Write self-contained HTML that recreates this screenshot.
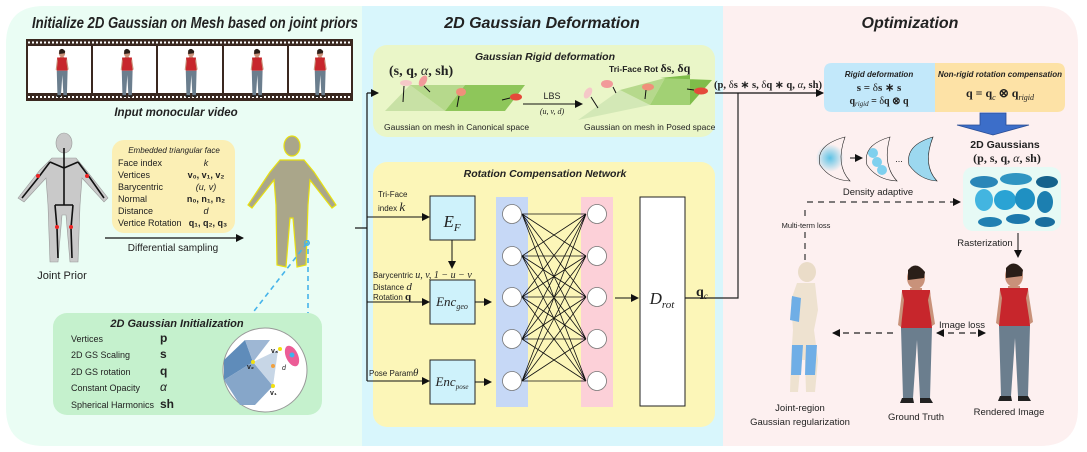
<!DOCTYPE html>
<html><head><meta charset="utf-8"><style>
html,body{margin:0;padding:0;background:#fff;}
svg{display:block;}
text{font-family:"Liberation Sans",sans-serif;fill:#222;}
.m{font-family:"Liberation Serif",serif;}
.t{font-style:italic;font-weight:bold;}
</style></head><body>
<svg width="1087" height="452" viewBox="0 0 1087 452" xmlns="http://www.w3.org/2000/svg">
<defs>
<marker id="ar" markerWidth="8" markerHeight="8" refX="7" refY="4" orient="auto" markerUnits="userSpaceOnUse"><path d="M0,0 L8,4 L0,8 z" fill="#111"/></marker>
<marker id="al" markerWidth="8" markerHeight="8" refX="1" refY="4" orient="auto" markerUnits="userSpaceOnUse"><path d="M8,0 L0,4 L8,8 z" fill="#111"/></marker>
<radialGradient id="bl"><stop offset="0" stop-color="#5cc3e6"/><stop offset="1" stop-color="#5cc3e6" stop-opacity="0"/></radialGradient>
<g id="person">
<ellipse cx="0" cy="-62" rx="9" ry="11" fill="#c9927a"/>
<path d="M-8,-70 Q0,-80 9,-68 L8,-62 L-8,-60z" fill="#2a1e18"/>
<path d="M-6,-52 L6,-52 L6,-48 L-6,-48z" fill="#c9927a"/>
<path d="M-14,-50 L14,-50 L16,-12 L-15,-12 z" fill="#c7262c"/>
<path d="M-14,-48 L-18,-15 L-15,-13 L-12,-40z" fill="#c9927a"/>
<path d="M14,-48 L19,-16 L16,-14 L12,-40z" fill="#c9927a"/>
<path d="M-15,-12 L16,-12 L14,58 L4,58 L1,0 L-3,58 L-13,58 z" fill="#6b7e8e"/>
<path d="M-14,58 L-3,58 L-2,63 L-16,63z M4,58 L14,58 L17,63 L4,63z" fill="#222"/>
</g>
</defs>

<!-- panels -->
<path d="M44,6 L362,6 L362,446 L44,446 Q6,446 6,408 L6,44 Q6,6 44,6z" fill="#eafdf4"/>
<rect x="362" y="6" width="361" height="440" fill="#d8f6fc"/>
<path d="M723,6 L1040,6 Q1078,6 1078,44 L1078,408 Q1078,446 1040,446 L723,446z" fill="#fdf0f0"/>

<!-- LEFT -->
<text x="32" y="28" font-size="16" class="t" textLength="326" lengthAdjust="spacingAndGlyphs">Initialize 2D Gaussian on Mesh based on joint priors</text>
<rect x="26" y="39" width="327" height="62" fill="#3a2820"/>
<g fill="#fff">
<rect x="28" y="46" width="63" height="47"/><rect x="93" y="46" width="63" height="47"/><rect x="158" y="46" width="64" height="47"/><rect x="224" y="46" width="63" height="47"/><rect x="289" y="46" width="62" height="47"/>
</g>
<g stroke="#fff" stroke-width="2" stroke-dasharray="2 2"><line x1="28" y1="42.5" x2="352" y2="42.5"/><line x1="28" y1="97" x2="352" y2="97"/></g>
<use href="#person" transform="translate(62,75) scale(0.35)"/>
<use href="#person" transform="translate(127,75) scale(0.35)"/>
<use href="#person" transform="translate(191,75) scale(0.35)"/>
<use href="#person" transform="translate(257,75) scale(0.35)"/>
<use href="#person" transform="translate(320,75) scale(0.35)"/>
<text x="176" y="116" font-size="11.5" class="t" text-anchor="middle">Input monocular video</text>

<!-- joint prior -->
<g fill="#c9c9c9" stroke="#999" stroke-width="0.6">
<ellipse cx="64" cy="143" rx="8" ry="10"/>
<path d="M52,158 L76,158 L86,170 L108,198 L104,202 L82,178 L80,205 L78,262 L70,262 L66,215 L62,215 L58,262 L50,262 L48,205 L46,178 L24,202 L18,198 L40,170z"/>
</g>
<g stroke="#111" stroke-width="1.6" fill="none">
<path d="M64,148 L64,205 M50,162 L64,168 L78,162 M50,162 L38,178 L22,198 M78,162 L90,178 L104,198 M55,205 L73,205 M55,205 L57,228 L58,258 M73,205 L71,228 L72,258"/>
</g>
<g fill="#e22"><circle cx="38" cy="176" r="2"/><circle cx="87" cy="176" r="2"/><circle cx="57" cy="227" r="2"/><circle cx="71" cy="227" r="2"/></g>
<text x="62" y="279" font-size="11" text-anchor="middle">Joint Prior</text>

<!-- embedded box -->
<rect x="112" y="140" width="123" height="93" rx="12" fill="#fbefb5"/>
<text x="174" y="153" font-size="8" font-style="italic" text-anchor="middle">Embedded triangular face</text>
<g font-size="9">
<text x="118" y="166">Face index</text><text x="118" y="178">Vertices</text><text x="118" y="190">Barycentric</text><text x="118" y="202">Normal</text><text x="118" y="214">Distance</text><text x="118" y="226">Vertice Rotation</text>
</g>
<g font-size="9" class="m" text-anchor="middle">
<text x="206" y="166" font-style="italic">k</text><text x="206" y="178" font-weight="bold">v₀, v₁, v₂</text><text x="206" y="190" font-style="italic">(u, v)</text><text x="206" y="202" font-weight="bold">n₀, n₁, n₂</text><text x="206" y="214" font-style="italic">d</text><text x="208" y="226" font-weight="bold">q₁, q₂, q₃</text>
</g>
<line x1="105" y1="238" x2="243" y2="238" stroke="#111" stroke-width="1.2" marker-end="url(#ar)"/>
<text x="173" y="251" font-size="10" text-anchor="middle">Differential sampling</text>

<!-- yellow mesh -->
<g fill="#aaa68a" stroke="#e8e010" stroke-width="1.2">
<ellipse cx="292" cy="146" rx="8" ry="10"/>
<path d="M280,160 L304,160 L314,172 L336,205 L332,208 L310,180 L308,205 L306,265 L297,267 L293,218 L290,218 L286,267 L277,265 L276,205 L274,180 L252,208 L248,205 L270,172z"/>
</g>
<g stroke="#46b4ea" stroke-width="1.6" stroke-dasharray="5 4" fill="none"><line x1="307" y1="243" x2="237" y2="333"/><line x1="308" y1="240" x2="308" y2="360"/></g>
<circle cx="307" cy="243" r="2.5" fill="none" stroke="#46b4ea"/>

<!-- 2D GS init -->
<rect x="53" y="313" width="269" height="102" rx="14" fill="#c5f1cd"/>
<text x="177" y="327" font-size="11" class="t" text-anchor="middle">2D Gaussian Initialization</text>
<g font-size="9">
<text x="71" y="342">Vertices</text><text x="71" y="358">2D GS Scaling</text><text x="71" y="375">2D GS rotation</text><text x="71" y="391">Constant Opacity</text><text x="71" y="408">Spherical Harmonics</text>
</g>
<g font-size="12" class="m" font-weight="bold">
<text x="160" y="342">p</text><text x="160" y="358">s</text><text x="160" y="375">q</text><text x="160" y="391" font-style="italic" font-weight="normal">α</text><text x="160" y="408">sh</text>
</g>
<circle cx="265" cy="370" r="42" fill="#fff" stroke="#999"/>
<path d="M224,360 L245,340 L253,362 L224,380z" fill="#5f8cba"/>
<path d="M245,340 L253,362 L270,340 Z" fill="#9eb7d4"/>
<path d="M253,362 L273,386 L255,405 L240,405 L224,380z" fill="#86a6c9"/>
<path d="M253,362 L278,350 L273,386z" fill="#c7d6e6"/>
<ellipse cx="292" cy="356" rx="6" ry="11" transform="rotate(-25 292 356)" fill="#ec5c96"/>
<circle cx="292" cy="355" r="2.5" fill="#3cb4ec"/>
<g fill="#f2e010"><circle cx="253" cy="362" r="2"/><circle cx="280" cy="349" r="2"/><circle cx="273" cy="386" r="2"/></g>
<circle cx="273" cy="366" r="2" fill="#f0a040"/>
<g font-size="7" class="m" font-weight="bold"><text x="247" y="369">v₂</text><text x="271" y="353">v₃</text><text x="270" y="395">v₁</text><text x="282" y="370" font-style="italic" font-weight="normal">d</text></g>

<!-- MIDDLE -->
<text x="542" y="28" font-size="16" class="t" text-anchor="middle">2D Gaussian Deformation</text>
<rect x="373" y="45" width="342" height="92" rx="14" fill="#eaf6c8"/>
<text x="545" y="60" font-size="10.5" class="t" text-anchor="middle">Gaussian Rigid deformation</text>
<text x="389" y="75" font-size="14" class="m" font-weight="bold">(s, q, <tspan font-style="italic" font-weight="normal">α</tspan>, sh)</text>
<path d="M385,111 L410,85 L445,111z" fill="#c8e1a5"/>
<path d="M410,85 L445,111 L465,85z" fill="#b6d98c"/>
<path d="M445,111 L465,85 L525,85 L505,111z" fill="#8ec65a"/>
<ellipse cx="406" cy="83" rx="6" ry="3" fill="#f5c8c8"/><ellipse cx="423" cy="81" rx="3.5" ry="6" transform="rotate(30 423 81)" fill="#f29a9a"/><ellipse cx="461" cy="92" rx="5" ry="4" fill="#f0907a"/><ellipse cx="516" cy="97" rx="6" ry="3.5" fill="#e44a3a"/>
<g stroke="#111" stroke-width="1"><line x1="404" y1="86" x2="403" y2="102"/><line x1="424" y1="86" x2="430" y2="92"/><line x1="459" y1="96" x2="457" y2="107"/><line x1="510" y1="98" x2="502" y2="100"/></g>
<line x1="523" y1="104" x2="582" y2="104" stroke="#111" stroke-width="1" marker-end="url(#ar)"/>
<text x="552" y="99" font-size="9" text-anchor="middle">LBS</text>
<text x="552" y="114" font-size="8" class="m" font-style="italic" text-anchor="middle">(u, v, d)</text>
<text x="384" y="130" font-size="8.5">Gaussian on mesh in Canonical space</text>
<text x="609" y="72" font-size="8.5" font-weight="bold">Tri-Face Rot <tspan class="m" font-size="12">δs, δq</tspan></text>
<path d="M578,120 L620,90 L650,105z" fill="#d3e8b6"/>
<path d="M620,90 L650,105 L665,78 Z" fill="#b6d98c"/>
<path d="M650,105 L665,78 L690,75 L690,105z" fill="#a2d174"/>
<path d="M660,78 L690,75 L690,105 L712,80z" fill="#7fbd4a"/>
<ellipse cx="588" cy="93" rx="3.5" ry="6" transform="rotate(30 588 93)" fill="#f5c8c8"/>
<ellipse cx="607" cy="84" rx="6" ry="4" fill="#f29a9a"/>
<ellipse cx="648" cy="87" rx="6" ry="3.5" fill="#f0907a"/>
<ellipse cx="701" cy="91" rx="7" ry="3.5" fill="#e44a3a"/>
<g stroke="#111" stroke-width="1"><line x1="591" y1="97" x2="598" y2="108"/><line x1="613" y1="87" x2="616" y2="93"/><line x1="646" y1="90" x2="645" y2="99"/><line x1="694" y1="90" x2="687" y2="89"/></g>
<text x="584" y="130" font-size="8.5">Gaussian on mesh in Posed space</text>

<rect x="373" y="162" width="342" height="265" rx="14" fill="#fcf6b8"/>
<text x="545" y="177" font-size="10.5" class="t" text-anchor="middle">Rotation Compensation Network</text>

<!-- bracket -->
<g stroke="#111" stroke-width="1.2" fill="none">
<line x1="355" y1="228" x2="367" y2="228"/>
<line x1="367" y1="93" x2="367" y2="381"/>
</g>
<line x1="367" y1="93" x2="378" y2="93" stroke="#111" stroke-width="1.2" marker-end="url(#ar)"/>
<line x1="367" y1="217" x2="429" y2="217" stroke="#111" stroke-width="1" marker-end="url(#ar)"/>
<line x1="367" y1="302" x2="429" y2="302" stroke="#111" stroke-width="1" marker-end="url(#ar)"/>
<line x1="367" y1="381" x2="429" y2="381" stroke="#111" stroke-width="1" marker-end="url(#ar)"/>
<text x="378" y="197" font-size="8">Tri-Face</text>
<text x="378" y="211" font-size="8">index <tspan class="m" font-style="italic" font-size="13">k</tspan></text>
<text x="373" y="278" font-size="8">Barycentric <tspan class="m" font-style="italic" font-size="10">u, v, 1 − u − v</tspan></text>
<text x="373" y="290" font-size="8">Distance <tspan class="m" font-style="italic" font-size="11">d</tspan></text>
<text x="373" y="300" font-size="8">Rotation <tspan class="m" font-weight="bold" font-size="11">q</tspan></text>
<text x="369" y="376" font-size="8">Pose Param<tspan class="m" font-style="italic" font-size="11">θ</tspan></text>

<g fill="#cef2fb" stroke="#222" stroke-width="1">
<rect x="430" y="196" width="45" height="44"/><rect x="430" y="280" width="45" height="44"/><rect x="430" y="360" width="45" height="44"/>
</g>
<text x="452" y="227" font-size="17" class="m" font-style="italic" text-anchor="middle">E<tspan font-size="11" dy="4">F</tspan></text>
<text x="452" y="306" font-size="13" class="m" font-style="italic" text-anchor="middle">Enc<tspan font-size="8" dy="3">geo</tspan></text>
<text x="452" y="386" font-size="13" class="m" font-style="italic" text-anchor="middle">Enc<tspan font-size="7" dy="3">pose</tspan></text>
<line x1="452" y1="240" x2="452" y2="268" stroke="#111" marker-end="url(#ar)"/>
<line x1="475" y1="302" x2="491" y2="302" stroke="#111" marker-end="url(#ar)"/>
<line x1="475" y1="382" x2="491" y2="382" stroke="#111" marker-end="url(#ar)"/>

<rect x="496" y="197" width="32" height="210" fill="#c6d8f6"/>
<rect x="581" y="197" width="32" height="210" fill="#fcd0d8"/>
<g stroke="#111" stroke-width="0.8">
<path d="M522,214 L586,214 M522,214 L586,256 M522,214 L586,297 M522,214 L586,339 M522,214 L586,381
M522,256 L586,214 M522,256 L586,256 M522,256 L586,297 M522,256 L586,339 M522,256 L586,381
M522,297 L586,214 M522,297 L586,256 M522,297 L586,297 M522,297 L586,339 M522,297 L586,381
M522,339 L586,214 M522,339 L586,256 M522,339 L586,297 M522,339 L586,339 M522,339 L586,381
M522,381 L586,214 M522,381 L586,256 M522,381 L586,297 M522,381 L586,339 M522,381 L586,381"/>
</g>
<g fill="#fff" stroke="#777" stroke-width="0.8">
<circle cx="512" cy="214" r="9.5"/><circle cx="512" cy="256" r="9.5"/><circle cx="512" cy="297" r="9.5"/><circle cx="512" cy="339" r="9.5"/><circle cx="512" cy="381" r="9.5"/>
<circle cx="597" cy="214" r="9.5"/><circle cx="597" cy="256" r="9.5"/><circle cx="597" cy="297" r="9.5"/><circle cx="597" cy="339" r="9.5"/><circle cx="597" cy="381" r="9.5"/>
</g>
<line x1="615" y1="298" x2="638" y2="298" stroke="#111" marker-end="url(#ar)"/>
<rect x="640" y="197" width="45" height="209" fill="#fff" stroke="#222"/>
<text x="662" y="304" font-size="17" class="m" font-style="italic" text-anchor="middle">D<tspan font-size="11" dy="4">rot</tspan></text>
<text x="696" y="296" font-size="14" class="m" font-weight="bold">q<tspan font-size="9" font-style="italic" font-weight="normal" dy="3">c</tspan></text>
<polyline points="685,298 738,298 738,93" fill="none" stroke="#222" stroke-width="1.2"/>

<!-- RIGHT -->
<text x="910" y="28" font-size="16" class="t" text-anchor="middle">Optimization</text>
<line x1="715" y1="93" x2="823" y2="93" stroke="#111" stroke-width="1.2" marker-end="url(#ar)"/>
<text x="714" y="88" font-size="10" class="m" font-weight="bold" textLength="108" lengthAdjust="spacingAndGlyphs">(p, <tspan font-weight="normal">δ</tspan>s ∗ s, <tspan font-weight="normal">δ</tspan>q ∗ q, <tspan font-style="italic" font-weight="normal">α</tspan>, sh)</text>
<path d="M832,63 L935,63 L935,112 L832,112 Q824,112 824,104 L824,71 Q824,63 832,63z" fill="#c2e8fa"/>
<path d="M935,63 L1057,63 Q1065,63 1065,71 L1065,104 Q1065,112 1057,112 L935,112z" fill="#fde2a6"/>
<text x="879" y="77" font-size="8" font-style="italic" font-weight="bold" text-anchor="middle">Rigid deformation</text>
<text x="879" y="91" font-size="11" class="m" font-weight="bold" text-anchor="middle">s = <tspan font-weight="normal">δ</tspan>s ∗ s</text>
<text x="879" y="104" font-size="10" class="m" font-weight="bold" text-anchor="middle">q<tspan font-size="7" font-style="italic" font-weight="normal" dy="2">rigid</tspan><tspan dy="-2"> = </tspan><tspan font-weight="normal">δ</tspan>q ⊗ q</text>
<text x="1000" y="77" font-size="8" font-style="italic" font-weight="bold" text-anchor="middle">Non-rigid rotation compensation</text>
<text x="1000" y="97" font-size="12" class="m" font-weight="bold" text-anchor="middle">q = q<tspan font-size="8" font-style="italic" font-weight="normal" dy="3">c</tspan><tspan dy="-3"> ⊗ q</tspan><tspan font-size="8" font-style="italic" font-weight="normal" dy="3">rigid</tspan></text>
<path d="M980,113 L1006,113 L1006,125 L1029,125 L993,135 L957,125 L980,125z" fill="#3c6ec9" stroke="#2a4d94" stroke-width="0.8"/>
<text x="1005" y="148" font-size="10.5" font-weight="bold" text-anchor="middle">2D Gaussians</text>
<text x="1007" y="162" font-size="12" class="m" font-weight="bold" text-anchor="middle">(p,  s,  q,  <tspan font-style="italic" font-weight="normal">α</tspan>,  sh)</text>
<rect x="963" y="167" width="98" height="64" rx="10" fill="#e6faf5"/>
<g>
<ellipse cx="984" cy="182" rx="14" ry="6" fill="#2a86b8"/><ellipse cx="1016" cy="179" rx="16" ry="6" fill="#2f95c2"/><ellipse cx="1047" cy="182" rx="11" ry="6" fill="#15628c"/>
<ellipse cx="984" cy="200" rx="9" ry="11" fill="#43b5e0"/><ellipse cx="1005" cy="200" rx="11" ry="10" fill="#2aa3d4"/><ellipse cx="1025" cy="199" rx="10" ry="11" fill="#1f90c2"/><ellipse cx="1045" cy="202" rx="8" ry="11" fill="#1c7fb0"/>
<ellipse cx="990" cy="222" rx="12" ry="5" fill="#2180b2"/><ellipse cx="1018" cy="219" rx="12" ry="5" fill="#1c78ac"/><ellipse cx="1045" cy="222" rx="10" ry="5" fill="#1a6e9e"/>
</g>
<!-- crescents -->
<g fill="none" stroke="#222" stroke-width="0.6">
<circle cx="830" cy="158" r="14" fill="url(#bl)" stroke="none"/>
<path d="M845,137 Q815,145 820,165 Q830,180 850,181 Q835,165 845,137z"/>
<circle cx="873" cy="153" r="5" fill="#7fd0ee" stroke="none"/><circle cx="877" cy="162" r="5" fill="#7fd0ee" stroke="none"/><circle cx="882" cy="170" r="5" fill="#7fd0ee" stroke="none"/>
<path d="M890,137 Q862,145 867,165 Q877,180 897,181 Q882,165 890,137z"/>
<path d="M933,137 Q905,145 909,165 Q920,180 937,181 Q922,165 933,137z" fill="#9cd8ef"/>
</g>
<line x1="850" y1="158" x2="862" y2="158" stroke="#111" marker-end="url(#ar)"/>
<text x="899" y="162" font-size="9" text-anchor="middle">...</text>
<text x="878" y="195" font-size="9.5" text-anchor="middle">Density adaptive</text>
<line x1="807" y1="202" x2="960" y2="202" stroke="#333" stroke-width="1.2" stroke-dasharray="6 5" marker-end="url(#ar)"/>
<line x1="805" y1="210" x2="805" y2="260" stroke="#333" stroke-width="1.2" stroke-dasharray="6 5"/>
<rect x="775" y="219" width="60" height="11" fill="#fdf0f0"/>
<text x="806" y="228" font-size="7.5" text-anchor="middle">Multi-term loss</text>
<text x="985" y="246" font-size="9.5" text-anchor="middle">Rasterization</text>
<line x1="1018" y1="233" x2="1018" y2="257" stroke="#111" marker-end="url(#ar)"/>

<!-- regularization body -->
<g>
<ellipse cx="807" cy="272" rx="9" ry="10" fill="#eadcc8"/>
<path d="M797,283 L815,283 L818,310 L814,330 L818,360 L815,392 L806,392 L805,360 L801,360 L798,392 L790,392 L791,360 L793,330 L791,300z" fill="#eee2d0"/>
<path d="M792,296 L801,298 L799,322 L790,320z" fill="#6faee6"/>
<path d="M792,345 L803,345 L801,375 L791,375z" fill="#6faee6"/>
<path d="M806,345 L817,345 L815,375 L805,375z" fill="#6faee6"/>
</g>
<text x="800" y="411" font-size="9.5" text-anchor="middle">Joint-region</text>
<text x="800" y="425" font-size="9.5" text-anchor="middle">Gaussian regularization</text>
<use href="#person" transform="translate(916,340) scale(1.0)"/>
<use href="#person" transform="translate(1014,338) scale(1.0)"/>
<text x="916" y="420" font-size="9.5" text-anchor="middle">Ground Truth</text>
<text x="1009" y="415" font-size="9.5" text-anchor="middle">Rendered Image</text>
<line x1="893" y1="333" x2="833" y2="333" stroke="#222" stroke-width="1.2" stroke-dasharray="6 5" marker-end="url(#ar)"/>
<line x1="937" y1="333" x2="985" y2="333" stroke="#222" stroke-width="1.2" stroke-dasharray="6 5" marker-start="url(#al)" marker-end="url(#ar)"/>
<text x="962" y="328" font-size="9.5" text-anchor="middle">Image loss</text>
</svg>
</body></html>
